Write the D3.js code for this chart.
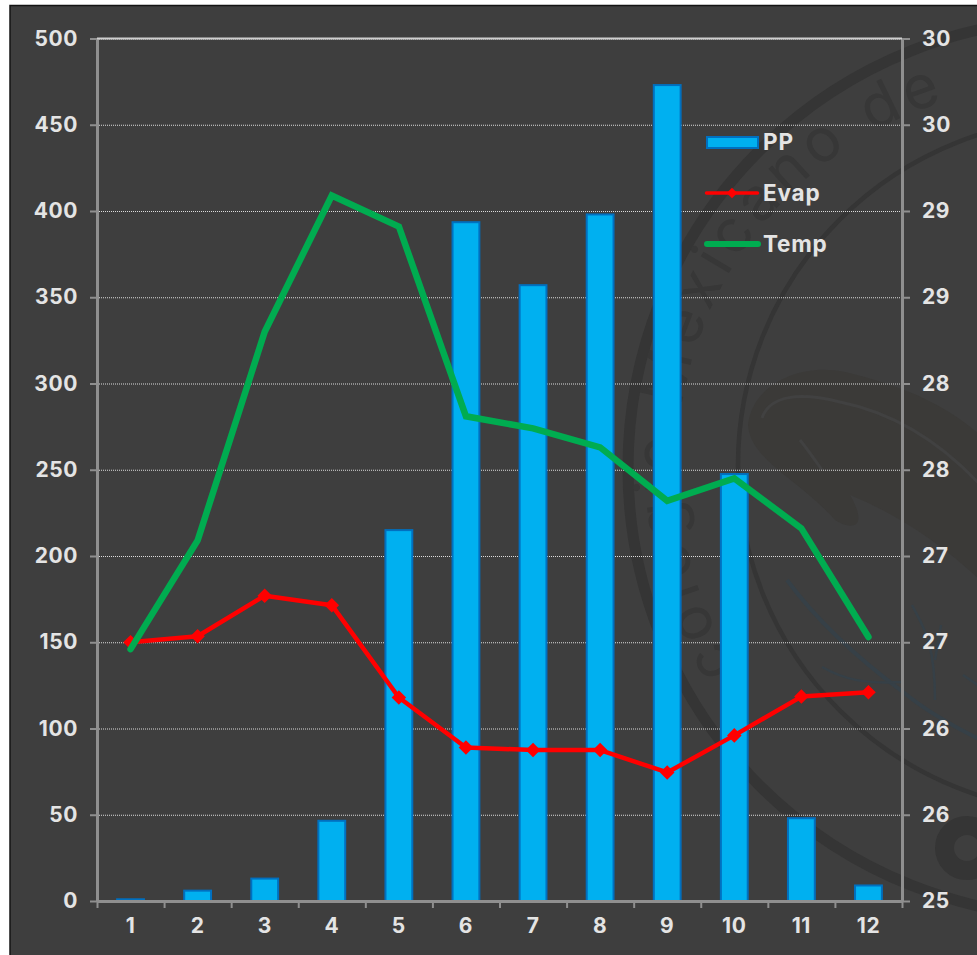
<!DOCTYPE html>
<html>
<head>
<meta charset="utf-8">
<script src="https://cdn.jsdelivr.net/npm/d3@7/dist/d3.min.js"></script>
<style>
html,body{margin:0;padding:0;background:#fff;overflow:hidden}
svg{display:block}
text{font-family:Inter,"Open Sans",sans-serif;font-weight:700;fill:#e4e4e4}
</style>
</head>
<body>
<svg id="chart" width="977" height="955"></svg>
<script>
// Monthly climate values
const months = [1,2,3,4,5,6,7,8,9,10,11,12];
const pp   = [1,6,13,46.5,215,393.5,357,398,473,247.5,48,9];
const evap = [150,153.5,177,171.5,118,89,87.5,87.5,74.5,96,118.5,121];
const temp = [26.46,27.09,28.3,29.09,28.91,27.81,27.74,27.63,27.32,27.45,27.16,26.53];
const leftTicks = [0,50,100,150,200,250,300,350,400,450,500];
const rightTicks = [25,25.5,26,26.5,27,27.5,28,28.5,29,29.5,30];
const legendItems = ["PP","Evap","Temp"];

const plot = {left:97, right:902, top:38.5, bottom:901};
const svg = d3.select("#chart");

// Panel with its dark frame
svg.append("rect").attr("x",10).attr("y",5.5).attr("width",970).attr("height",952)
  .attr("fill","#3e3e3e").attr("stroke","#141414").attr("stroke-width",1.5);

// Faint seal in the background
const seal = svg.append("g").attr("fill","none").attr("stroke","#353535");
seal.append("path").attr("fill","#3b3a38").attr("stroke","none")
  .attr("d","M748 425 C752 385 800 362 845 372 C900 385 950 405 985 440 L985 585 C950 550 900 515 850 495 C870 530 850 530 835 520 C800 480 750 460 748 425 Z");
seal.append("path").attr("stroke","#414141").attr("stroke-width",3)
  .attr("d","M762 418 C770 395 800 392 840 402 C890 412 940 440 985 490 M800 440 C808 450 815 460 822 470");
seal.append("circle").attr("cx",1077).attr("cy",468).attr("r",449).attr("stroke-width",11);
seal.append("circle").attr("cx",1085).attr("cy",465).attr("r",347).attr("stroke-width",4.5);
seal.append("circle").attr("cx",967).attr("cy",848).attr("r",22.5).attr("stroke-width",19);
seal.append("path").attr("stroke","#364047").attr("stroke-width",4)
  .attr("d","M787 580 C820 625 860 660 903 692 C925 710 950 725 985 742");
seal.append("path").attr("stroke","#364047").attr("stroke-width",2.5)
  .attr("d","M822 667 C845 680 865 684 903 682 M912 605 C922 625 935 640 935 700 M941 625 L935 660 M963 675 L985 690");
seal.append("path").attr("id","sealArc").attr("stroke","none")
  .attr("d","M 737 668 A 380 380 0 0 1 1030 85");
svg.append("text").style("font-size","60px").style("font-weight",400).style("fill","#373737")
  .attr("letter-spacing",6)
  .append("textPath").attr("href","#sealArc").text("colegio Mexicano de");

const x = d3.scaleBand().domain(months).range([plot.left,plot.right]);
const xEdges = d3.scaleLinear().domain([0,12]).range([plot.left,plot.right]);
const yLeft = d3.scaleLinear().domain([0,500]).range([plot.bottom,plot.top]);
const yRight = d3.scaleLinear().domain([25,30]).range([plot.bottom,plot.top]);
const barWidth = x.bandwidth()*0.4;

// Dotted horizontal gridlines
svg.append("g").selectAll("line").data(leftTicks.slice(1)).join("line")
  .attr("x1",plot.left).attr("x2",plot.right)
  .attr("y1",d=>yLeft(d)+.5).attr("y2",d=>yLeft(d)+.5)
  .attr("stroke","#dcdcdc").attr("stroke-width",1).attr("stroke-dasharray","1 1");

// Precipitation bars
svg.append("g").selectAll("rect").data(pp).join("rect")
  .attr("x",(d,i)=>x(months[i])+(x.bandwidth()-barWidth)/2)
  .attr("width",barWidth)
  .attr("y",d=>yLeft(d))
  .attr("height",d=>plot.bottom-yLeft(d))
  .attr("fill","#00b0f0").attr("stroke","#0070c0").attr("stroke-width",2);

// Axes
function styleAxis(g){
  g.selectAll(".domain").attr("stroke","#8f8f8f").attr("stroke-width",3);
  g.selectAll(".tick line").attr("stroke","#8f8f8f").attr("stroke-width",2);
  g.selectAll("text").style("font-size","21px").attr("letter-spacing",0.6).attr("fill",null);
}
const axisLeft = svg.append("g").attr("transform",`translate(${plot.left},0)`)
  .call(d3.axisLeft(yLeft).tickValues(leftTicks).tickSize(7).tickSizeOuter(0).tickPadding(12));
styleAxis(axisLeft);
const axisRight = svg.append("g").attr("transform",`translate(${plot.right},0)`)
  .call(d3.axisRight(yRight).tickValues(rightTicks).tickFormat(d3.format(".0f")).tickSize(8).tickSizeOuter(0).tickPadding(12));
styleAxis(axisRight);
const axisTicks = svg.append("g").attr("transform",`translate(0,${plot.bottom})`)
  .call(d3.axisBottom(xEdges).tickValues(d3.range(0,13)).tickFormat("").tickSize(7).tickSizeOuter(0));
styleAxis(axisTicks);
const axisLabels = svg.append("g").attr("transform",`translate(0,${plot.bottom})`)
  .call(d3.axisBottom(x).tickSize(0).tickPadding(17));
axisLabels.select(".domain").remove();
axisLabels.selectAll("text").style("font-size","21px").attr("letter-spacing",0.6).attr("fill",null);

// Top border of the plot area
svg.append("line").attr("x1",plot.left).attr("x2",plot.right)
  .attr("y1",plot.top).attr("y2",plot.top)
  .attr("stroke","#cfcfcf").attr("stroke-width",2);

const cx = i => x(months[i])+x.bandwidth()/2;

// Evaporation line with diamond markers
const diamond = d3.symbol().type(d3.symbolDiamond2);
svg.append("path").datum(evap)
  .attr("d",d3.line().x((d,i)=>cx(i)).y(d=>yLeft(d)))
  .attr("fill","none").attr("stroke","#ff0000").attr("stroke-width",4.5).attr("stroke-linejoin","round");
svg.append("g").selectAll("path").data(evap).join("path")
  .attr("d",diamond.size(135)()).attr("fill","#ff0000")
  .attr("transform",(d,i)=>`translate(${cx(i)},${yLeft(d)})`);

// Temperature line on the right axis
svg.append("path").datum(temp)
  .attr("d",d3.line().x((d,i)=>cx(i)).y(d=>yRight(d)))
  .attr("fill","none").attr("stroke","#00ac50").attr("stroke-width",6.5)
  .attr("stroke-linejoin","miter").attr("stroke-linecap","round");

// Legend
const legend = svg.append("g");
legend.append("rect").attr("x",707).attr("y",137).attr("width",51).attr("height",11)
  .attr("fill","#00b0f0").attr("stroke","#0070c0").attr("stroke-width",2);
legend.append("line").attr("x1",706.5).attr("x2",757.5).attr("y1",193).attr("y2",193)
  .attr("stroke","#ff0000").attr("stroke-width",3.5).attr("stroke-linecap","round");
legend.append("path").attr("d",diamond.size(70)()).attr("fill","#ff0000").attr("transform","translate(732,193)");
legend.append("line").attr("x1",707).attr("x2",758).attr("y1",244).attr("y2",244)
  .attr("stroke","#00ac50").attr("stroke-width",6).attr("stroke-linecap","round");
legend.selectAll("text").data(legendItems).join("text")
  .attr("x",763).attr("y",(d,i)=>142+i*51).attr("dy","0.35em")
  .attr("letter-spacing",0.8).style("font-size","22.5px").text(d=>d);
</script>
</body>
</html>
